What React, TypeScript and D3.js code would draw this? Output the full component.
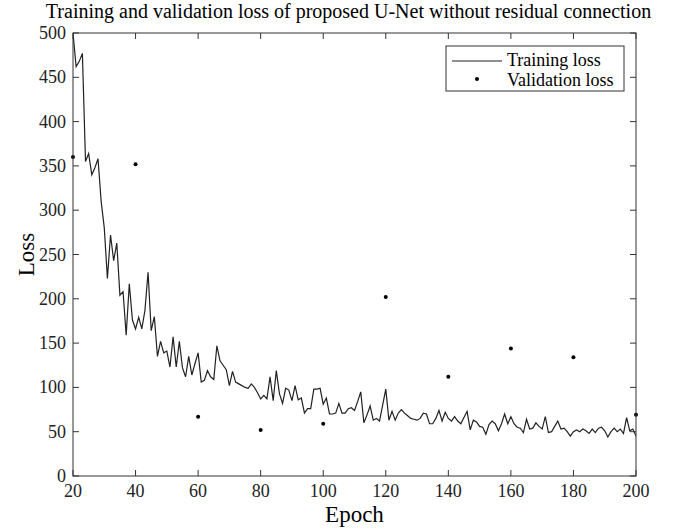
import React from "react";
import * as d3 from "d3";

const trainStartEpoch = 20;
const trainLoss: number[] = [
  500, 462, 468, 477, 355, 364, 340, 348, 358, 310,
  280, 223, 272, 243, 263, 204, 208, 159, 217, 176,
  166, 179, 166, 187, 230, 164, 180, 135, 152, 139,
  141, 123, 157, 123, 152, 122, 112, 135, 114, 127,
  139, 106, 108, 119, 112, 109, 147, 130, 125, 120,
  102, 118, 106, 104, 102, 100, 99, 104, 100, 94,
  87, 91, 87, 112, 85, 119, 93, 82, 99, 97,
  85, 102, 86, 88, 71, 76, 76, 98, 98, 99,
  81, 88, 70, 70, 71, 82, 71, 71, 76, 77,
  74, 84, 95, 60, 69, 79, 63, 65, 62, 80,
  98, 63, 73, 63, 71, 75, 71, 68, 65, 64,
  63, 65, 71, 70, 59, 59, 65, 74, 62, 72,
  65, 62, 67, 62, 59, 66, 73, 52, 63, 61,
  56, 55, 47, 58, 62, 59, 51, 59, 70, 59,
  67, 59, 55, 54, 49, 64, 53, 54, 60, 56,
  53, 67, 49, 50, 56, 62, 53, 54, 50, 45,
  50, 52, 50, 53, 51, 48, 53, 49, 54, 55,
  51, 44, 50, 54, 50, 53, 48, 66, 51, 53,
  45,
];
const valEpochs: number[] = [20, 40, 60, 80, 100, 120, 140, 160, 180, 200];
const valLoss: number[] = [360, 352, 67, 52, 59, 202, 112, 144, 134, 69];
const xTicks: number[] = [20, 40, 60, 80, 100, 120, 140, 160, 180, 200];
const yTicks: number[] = [0, 50, 100, 150, 200, 250, 300, 350, 400, 450, 500];

const titleText = "Training and validation loss of proposed U-Net without residual connection";
const xLabel = "Epoch";
const yLabel = "Loss";
const legendLabels = ["Training loss", "Validation loss"];

export default function App() {
  const W = 677, H = 529;
  const left = 73, right = 636, top = 33, bottom = 476;
  const x = d3.scaleLinear().domain([20, 200]).range([left, right]);
  const y = d3.scaleLinear().domain([0, 500]).range([bottom, top]);
  const data = trainLoss.map((v, i) => [trainStartEpoch + i, v] as [number, number]);
  const line = d3.line<[number, number]>().x(d => x(d[0])).y(d => y(d[1]));
  const font = "'Liberation Serif', 'Times New Roman', serif";
  const axisColor = "#333";
  const tl = 6;

  return (
    <svg width={W} height={H} style={{ position: "absolute", left: 0, top: 0, background: "#fff" }} fontFamily={font}>
      <rect x={0} y={0} width={W} height={H} fill="#fff" />
      <text x={(left + right) / 2 - 6} y={18} textAnchor="middle" fontSize={20} fill="#000">{titleText}</text>
      <defs>
        <clipPath id="plotclip">
          <rect x={left} y={top} width={right - left} height={bottom - top} />
        </clipPath>
      </defs>
      <path d={line(data) || ""} fill="none" stroke="#222" strokeWidth={1.2} clipPath="url(#plotclip)" />
      {valEpochs.map((e, i) => (
        <circle key={i} cx={x(e)} cy={y(valLoss[i])} r={2} fill="#000" />
      ))}
      <rect x={left} y={top} width={right - left} height={bottom - top} fill="none" stroke={axisColor} strokeWidth={1} />
      {xTicks.map(t => (
        <g key={"x" + t}>
          <line x1={x(t)} x2={x(t)} y1={bottom} y2={bottom - tl} stroke={axisColor} />
          <line x1={x(t)} x2={x(t)} y1={top} y2={top + tl} stroke={axisColor} />
          <text x={x(t)} y={bottom + 21} textAnchor="middle" fontSize={18} fill="#222">{t}</text>
        </g>
      ))}
      {yTicks.map(t => (
        <g key={"y" + t}>
          <line x1={left} x2={left + tl} y1={y(t)} y2={y(t)} stroke={axisColor} />
          <line x1={right} x2={right - tl} y1={y(t)} y2={y(t)} stroke={axisColor} />
          <text x={left - 7} y={y(t) + 6} textAnchor="end" fontSize={18} fill="#222">{t}</text>
        </g>
      ))}
      <text x={(left + right) / 2} y={522} textAnchor="middle" fontSize={23} fill="#000">{xLabel}</text>
      <text transform={`translate(34, ${(top + bottom) / 2}) rotate(-90)`} textAnchor="middle" fontSize={23} fill="#000">{yLabel}</text>
      <rect x={446} y={46} width={178} height={45} fill="#fff" stroke={axisColor} strokeWidth={1} />
      <line x1={452} x2={502} y1={61} y2={61} stroke="#222" strokeWidth={1.2} />
      <text x={507} y={66} fontSize={18} fill="#000">{legendLabels[0]}</text>
      <circle cx={477} cy={79} r={2} fill="#000" />
      <text x={507} y={86} fontSize={18} fill="#000">{legendLabels[1]}</text>
    </svg>
  );
}
